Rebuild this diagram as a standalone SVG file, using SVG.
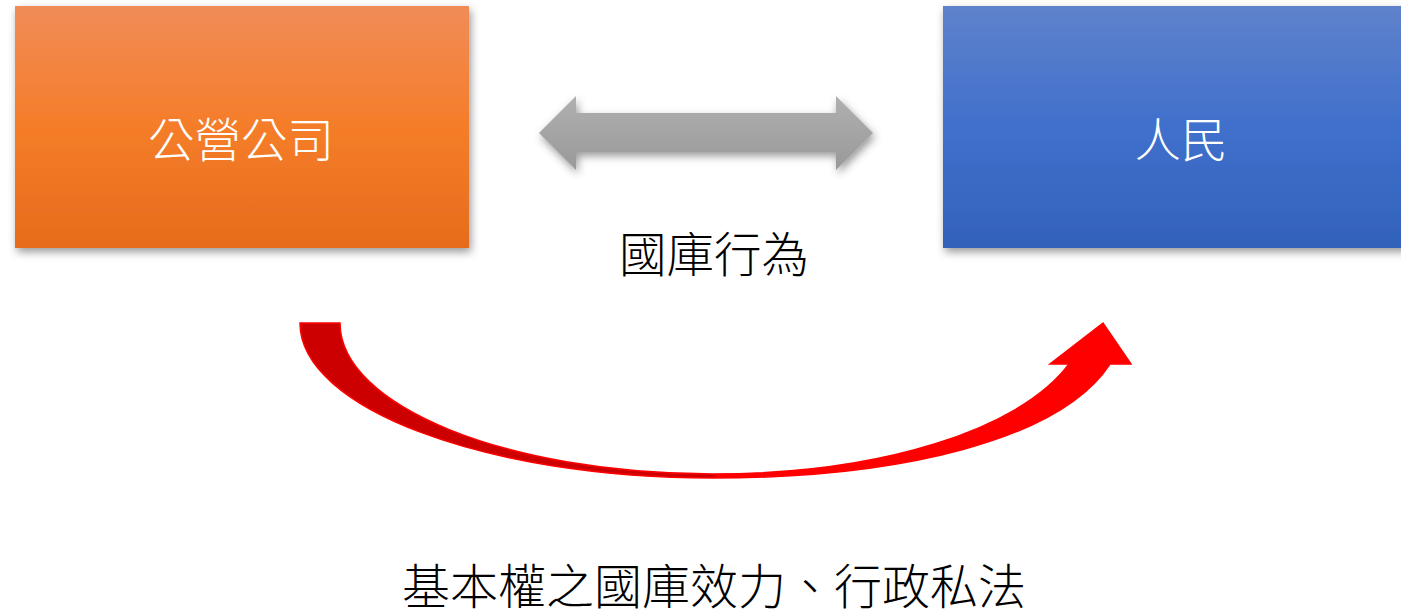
<svg xmlns="http://www.w3.org/2000/svg" width="1401" height="614" viewBox="0 0 1401 614">
<style>
.t{font-family:"Noto Sans CJK TC","Noto Sans CJK SC",sans-serif;font-weight:300;text-anchor:middle}
.w{fill:#ffffff;font-size:46.5px}
.k{fill:#000000;font-size:47.5px}
.b{font-size:48px}
</style>
<defs>
<linearGradient id="gO" x1="0" y1="0" x2="0" y2="1">
<stop offset="0" stop-color="#F18C58"/>
<stop offset="0.5" stop-color="#F57D29"/>
<stop offset="1" stop-color="#E66C1C"/>
</linearGradient>
<linearGradient id="gB" x1="0" y1="0" x2="0" y2="1">
<stop offset="0" stop-color="#5F82CB"/>
<stop offset="0.5" stop-color="#4070CC"/>
<stop offset="1" stop-color="#3262BA"/>
</linearGradient>
<linearGradient id="gG" x1="0" y1="0" x2="0" y2="1">
<stop offset="0" stop-color="#B0B0B0"/>
<stop offset="1" stop-color="#999999"/>
</linearGradient>
<linearGradient id="gR" gradientUnits="userSpaceOnUse" x1="300" y1="0" x2="1130" y2="0">
<stop offset="0" stop-color="#CC0000"/>
<stop offset="0.497" stop-color="#CC0000"/>
<stop offset="0.503" stop-color="#FF0000"/>
<stop offset="1" stop-color="#FF0000"/>
</linearGradient>
<filter id="sh" x="-10%" y="-20%" width="125%" height="145%">
<feDropShadow dx="2" dy="4" stdDeviation="4" flood-color="#000" flood-opacity="0.4"/>
</filter>
</defs>
<g id="node-gongying">
<rect x="15" y="6" width="454" height="242" fill="url(#gO)" filter="url(#sh)"/>
<text class="t w" x="241" y="157">公營公司</text>
</g>
<g id="node-renmin">
<rect x="943" y="6" width="476" height="242" fill="url(#gB)" filter="url(#sh)"/>
<text class="t w" x="1181" y="157">人民</text>
</g>
<g id="connectors">
<path d="M539,133 L576,96 L576,113 L836,113 L836,96 L873,133 L836,170 L836,152 L576,152 L576,170 Z" fill="url(#gG)" filter="url(#sh)"/>
<path d="M300,323 L340,323 C340,406 507,474 713,474 C880,474 1020,430 1069,364 L1050,364 L1103,323 L1131,364 L1110,364 C1060,440 900,478 713,478 C485,478 300,408 300,323 Z" fill="url(#gR)" stroke="#FF0000" stroke-width="1.5" stroke-linejoin="miter"/>
</g>
<g id="labels">
<text class="t k" x="714" y="272">國庫行為</text>
<text class="t k b" x="714" y="604">基本權之國庫效力、行政私法</text>
</g>
</svg>
